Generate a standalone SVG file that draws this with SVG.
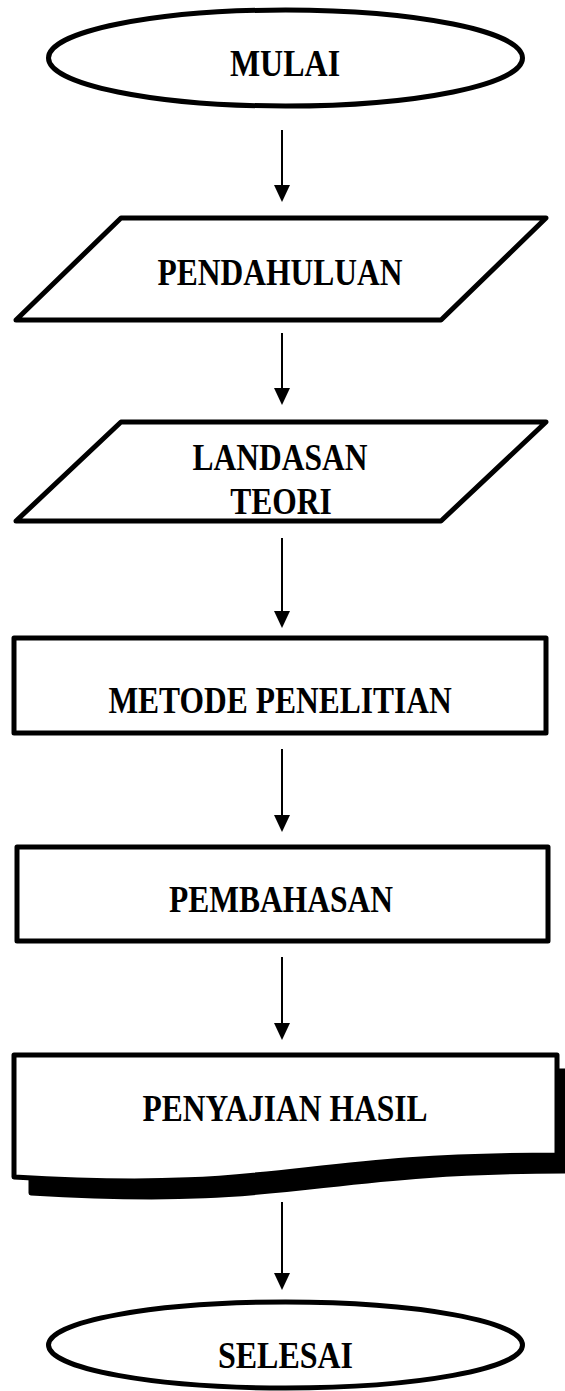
<svg xmlns="http://www.w3.org/2000/svg" width="565" height="1391" viewBox="0 0 565 1391">
<style>
.shape{fill:#fff;stroke:#000;stroke-width:5;stroke-linejoin:round}
.lbl{font-family:"Liberation Serif","Times New Roman",serif;font-weight:bold;font-size:31.5px;text-anchor:middle;fill:#000}
.conn{stroke:#000;stroke-width:2;fill:none}
</style>
<defs>
<marker id="ah" markerUnits="userSpaceOnUse" markerWidth="18" markerHeight="18" viewBox="0 0 16 17" refX="8" refY="17" orient="auto-start-reverse">
<path d="M0,0 L16,0 L8,17 Z" fill="#000"/>
</marker>
</defs>
<rect width="565" height="1391" fill="#fff"/>
<g id="connectors">
<line class="conn" x1="282" y1="130" x2="282" y2="185"/>
<path d="M274,185 L290,185 L282,202 Z"/>
<line class="conn" x1="282" y1="333" x2="282" y2="388"/>
<path d="M274,388 L290,388 L282,405 Z"/>
<line class="conn" x1="282" y1="538" x2="282" y2="611"/>
<path d="M274,611 L290,611 L282,628 Z"/>
<line class="conn" x1="282" y1="749" x2="282" y2="815"/>
<path d="M274,815 L290,815 L282,832 Z"/>
<line class="conn" x1="282" y1="957" x2="282" y2="1023"/>
<path d="M274,1023 L290,1023 L282,1040 Z"/>
<line class="conn" x1="282" y1="1202" x2="282" y2="1273"/>
<path d="M274,1273 L290,1273 L282,1290 Z"/>
</g>
<g id="mulai">
<ellipse class="shape" cx="285.5" cy="58" rx="237" ry="48"/>
<text class="lbl" style="font-size:32px" transform="translate(285,76) scale(1,1.2)">MULAI</text>
</g>
<g id="pendahuluan">
<polygon class="shape" points="121,218 546,218 441,320 16,320"/>
<text class="lbl" transform="translate(280,285) scale(1,1.2)">PENDAHULUAN</text>
</g>
<g id="landasan-teori">
<polygon class="shape" points="121,422 546,422 441,521 16,521"/>
<text class="lbl" transform="translate(280,470) scale(1,1.2)">LANDASAN</text>
<text class="lbl" transform="translate(281,514) scale(1,1.2)">TEORI</text>
</g>
<g id="metode-penelitian">
<rect class="shape" x="14" y="638" width="532" height="95"/>
<text class="lbl" transform="translate(280,713) scale(1,1.2)">METODE PENELITIAN</text>
</g>
<g id="pembahasan">
<rect class="shape" x="17" y="847" width="531" height="94"/>
<text class="lbl" transform="translate(281,912) scale(1,1.2)">PEMBAHASAN</text>
</g>
<g id="penyajian-hasil">
<path d="M31,1071 L574,1071 L574,1171 C302,1171 302,1209 31,1193 Z" fill="#000" stroke="#000" stroke-width="5" stroke-linejoin="round"/>
<path class="shape" d="M14,1055 L557,1055 L557,1155 C285,1155 285,1193 14,1177 Z"/>
<text class="lbl" transform="translate(285,1121) scale(1,1.2)">PENYAJIAN HASIL</text>
</g>
<g id="selesai">
<ellipse class="shape" cx="285.5" cy="1345" rx="237" ry="43"/>
<text class="lbl" style="font-size:32px" transform="translate(285.5,1368) scale(1,1.2)">SELESAI</text>
</g>
</svg>
